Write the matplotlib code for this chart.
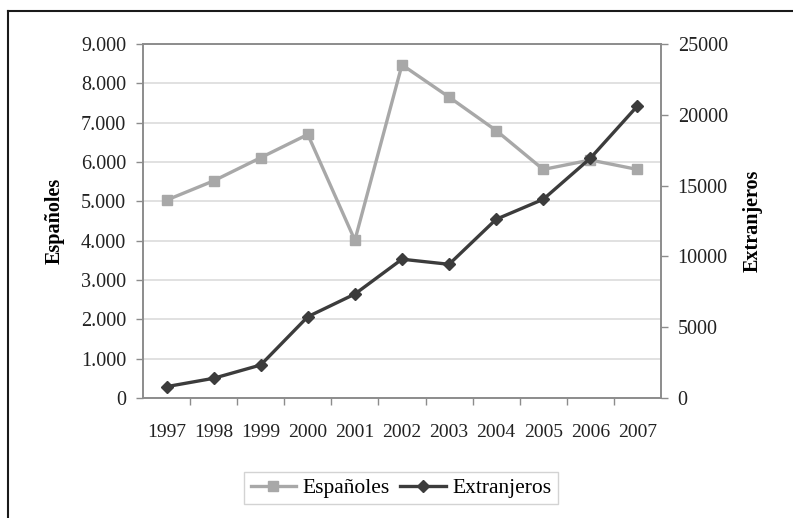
import matplotlib
matplotlib.use("Agg")
import matplotlib.pyplot as plt
from matplotlib.lines import Line2D
from matplotlib.ticker import FixedLocator, FuncFormatter

years = ["1997", "1998", "1999", "2000", "2001", "2002",
         "2003", "2004", "2005", "2006", "2007"]
espanoles = [5030, 5520, 6110, 6700, 4010, 8470, 7650, 6800, 5810, 6050, 5810]
extranjeros = [800, 1390, 2330, 5740, 7340, 9800, 9440, 12620, 14030, 16930, 20620]

plt.rcParams["font.family"] = ["Liberation Serif", "DejaVu Serif"]

C_ESP = "#a8a8a8"
C_EXT = "#3c3c3c"
C_AX = "#8c8c8c"
C_GRID = "#dcdcdc"

fig = plt.figure(figsize=(7.93, 5.18), dpi=100)
ax = fig.add_axes([0.1803, 0.2317, 0.6532, 0.6834])
ax2 = ax.twinx()

x = list(range(len(years)))

# Gridlines from the left axis
ax.set_ylim(0, 9000)
ax.set_yticks(range(0, 9001, 1000))
ax.yaxis.set_major_formatter(FuncFormatter(lambda v, p: f"{int(v):,}".replace(",", ".")))
ax.grid(axis="y", color=C_GRID, linewidth=1.2, zorder=0)
ax.set_axisbelow(True)

ax.set_xlim(-0.5, len(years) - 0.5)
ax.set_xticks(x)
ax.set_xticklabels(years)
ax.xaxis.set_minor_locator(FixedLocator([i + 0.5 for i in range(len(years) - 1)]))
ax.tick_params(axis="x", which="major", length=0, pad=19, labelsize=14, colors="#222222")
ax.tick_params(axis="x", which="minor", length=5, color=C_AX, width=1)
ax.tick_params(axis="y", length=5, color=C_AX, width=1, pad=7, labelsize=14.5, labelcolor="#222222")

ax2.set_ylim(0, 25000)
ax2.set_yticks(range(0, 25001, 5000))
ax2.tick_params(axis="y", length=5, color=C_AX, width=1, pad=7, labelsize=14.5, labelcolor="#222222")

for a in (ax, ax2):
    for s in a.spines.values():
        s.set_color(C_AX)
        s.set_linewidth(1.2)

l1, = ax.plot(x, espanoles, color=C_ESP, linewidth=2.4, marker="s",
              markersize=6.5, markerfacecolor=C_ESP, markeredgecolor=C_ESP, zorder=3)
l2, = ax2.plot(x, extranjeros, color=C_EXT, linewidth=2.4, marker="D",
               markersize=6, markerfacecolor=C_EXT, markeredgecolor=C_EXT, zorder=4)

ax.set_ylabel("Españoles", fontsize=14.5, fontweight="bold", labelpad=12)
ax2.set_ylabel("Extranjeros", fontsize=14.5, fontweight="bold", labelpad=11)

leg = fig.legend([l1, l2], ["Españoles", "Extranjeros"], loc="center",
                 bbox_to_anchor=(401 / 793, 1 - 488 / 518), ncol=2, frameon=True,
                 fancybox=False, fontsize=15.5, handlelength=2.1, columnspacing=0.5,
                 handletextpad=0.3, borderpad=0.3, borderaxespad=0)
leg.get_frame().set_edgecolor("#c8c8c8")
leg.get_frame().set_linewidth(1)

# Outer frame (top and left edges visible)
fig.add_artist(Line2D([8 / 793, 1], [1 - 11 / 518, 1 - 11 / 518],
                      color="#1a1a1a", linewidth=1.5))
fig.add_artist(Line2D([8 / 793, 8 / 793], [0, 1 - 11 / 518],
                      color="#1a1a1a", linewidth=1.5))

fig.savefig("out.png", dpi=100)
